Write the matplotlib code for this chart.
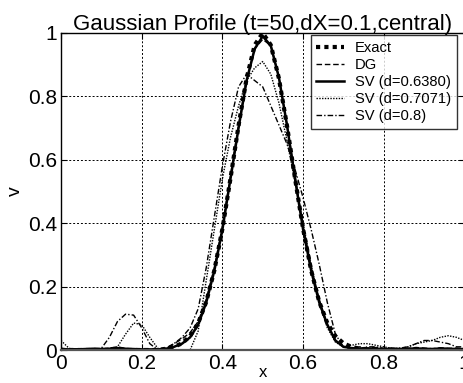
import matplotlib
matplotlib.use("Agg")
import matplotlib.pyplot as plt

x = [0.00, 0.02, 0.04, 0.06, 0.08, 0.10, 0.12, 0.14, 0.16, 0.18,
     0.20, 0.22, 0.24, 0.26, 0.28, 0.30, 0.32, 0.34, 0.36, 0.38,
     0.40, 0.42, 0.44, 0.46, 0.48, 0.50, 0.52, 0.54, 0.56, 0.58,
     0.60, 0.62, 0.64, 0.66, 0.68, 0.70, 0.72, 0.74, 0.76, 0.78,
     0.80, 0.82, 0.84, 0.86, 0.88, 0.90, 0.92, 0.94, 0.96, 0.98, 1.00]

exact = [0, 0, 0, 0, 0, 0, 0, 0, 0, 0,
         0, 0, 0, 0.004, 0.010, 0.021, 0.044, 0.085, 0.152, 0.251,
         0.382, 0.541, 0.708, 0.857, 0.962, 1.0, 0.962, 0.857, 0.708, 0.541,
         0.382, 0.251, 0.152, 0.085, 0.044, 0.021, 0.010, 0.004, 0, 0,
         0, 0, 0, 0, 0, 0, 0, 0, 0, 0, 0]

dg = [0.005, 0.002, 0.004, 0.002, 0.005, 0.003, 0.006, 0.010, 0.005, 0.003,
      0.004, 0.002, 0.003, 0.006, 0.020, 0.035, 0.055, 0.090, 0.160, 0.260,
      0.390, 0.550, 0.710, 0.850, 0.950, 0.980, 0.960, 0.860, 0.710, 0.550,
      0.390, 0.260, 0.160, 0.080, 0.030, 0.010, 0.005, 0.010, 0.006, 0.008,
      0.004, 0.006, 0.003, 0.005, 0.008, 0.006, 0.004, 0.007, 0.005, 0.006, 0.004]

sv_0638 = [0.003, 0.002, 0.002, 0.003, 0.004, 0.003, 0.004, 0.006, 0.004, 0.003,
           0.002, 0.002, 0.002, 0.004, 0.010, 0.020, 0.040, 0.080, 0.150, 0.250,
           0.380, 0.540, 0.700, 0.850, 0.950, 0.990, 0.960, 0.860, 0.710, 0.540,
           0.380, 0.250, 0.150, 0.080, 0.030, 0.010, 0.006, 0.004, 0.005, 0.004,
           0.003, 0.004, 0.003, 0.004, 0.005, 0.004, 0.003, 0.005, 0.004, 0.003, 0.003]

sv_0707 = [0.030, 0.005, 0.003, 0.004, 0.003, 0.004, 0.005, 0.010, 0.050, 0.085,
           0.080, 0.040, 0.005, 0.0, 0.0, 0.0, 0.0, 0.060, 0.220, 0.380,
           0.540, 0.670, 0.770, 0.850, 0.890, 0.910, 0.870, 0.780, 0.660, 0.530,
           0.400, 0.270, 0.150, 0.070, 0.025, 0.010, 0.015, 0.020, 0.020, 0.015,
           0.010, 0.005, 0.005, 0.010, 0.020, 0.025, 0.030, 0.040, 0.045, 0.040, 0.030]

sv_08 = [0.005, 0.003, 0.004, 0.003, 0.004, 0.005, 0.040, 0.090, 0.113, 0.110,
         0.070, 0.020, 0.0, 0.005, 0.020, 0.040, 0.070, 0.130, 0.260, 0.420,
         0.580, 0.720, 0.830, 0.870, 0.850, 0.830, 0.770, 0.710, 0.650, 0.570,
         0.480, 0.380, 0.270, 0.150, 0.050, 0.010, 0.005, 0.005, 0.010, 0.010,
         0.005, 0.004, 0.006, 0.010, 0.020, 0.030, 0.030, 0.025, 0.020, 0.010, 0.010]

labels = ["Exact", "DG", "SV (d=0.6380)", "SV (d=0.7071)", "SV (d=0.8)"]
xticks = [0, 0.2, 0.4, 0.6, 0.8, 1]
xticklabels = ["0", "0.2", "0.4", "0.6", "0.8", "1"]
yticks = [0, 0.2, 0.4, 0.6, 0.8, 1]
yticklabels = ["0", "0.2", "0.4", "0.6", "0.8", "1"]

plt.rcParams['font.family'] = ['Liberation Sans', 'DejaVu Sans']

fig = plt.figure(figsize=(4.63, 3.83), dpi=100)
ax = fig.add_axes([61/463, 1 - 350/383, 403.5/463, 317/383])

ax.plot(x, exact, color='black', linestyle=(0, (1, 1)), linewidth=3.0, label=labels[0])
ax.plot(x, dg, color='black', linestyle=(0, (4, 2)), linewidth=1.0, label=labels[1])
ax.plot(x, sv_0638, color='black', linestyle='-', linewidth=1.8, label=labels[2])
ax.plot(x, sv_0707, color='black', linestyle=(0, (1, 1)), linewidth=1.0, label=labels[3])
ax.plot(x, sv_08, color='black', linestyle=(0, (4, 1.5, 1, 1.5)), linewidth=1.0, label=labels[4])

ax.set_xlim(0, 1)
ax.set_ylim(0, 1)
ax.set_xticks(xticks)
ax.set_xticklabels(xticklabels)
ax.set_yticks(yticks)
ax.set_yticklabels(yticklabels)
ax.tick_params(direction='in', length=4, width=0.8, labelsize=15, pad=3,
               top=True, right=True)
ax.grid(True, color='black', linestyle=(0, (2, 2)), linewidth=0.7)
for s in ax.spines.values():
    s.set_color('black')
    s.set_linewidth(1.0)
ax.spines['bottom'].set_color('#555555')
ax.spines['bottom'].set_linewidth(1.6)

ax.set_title("Gaussian Profile (t=50,dX=0.1,central)", fontsize=16, pad=2)
ax.set_xlabel("x", fontsize=12, labelpad=-6)
ax.set_ylabel("v", fontsize=14, labelpad=3)

leg = ax.legend(loc='upper right', bbox_to_anchor=(456.7/463, 1 - 35/383),
                bbox_transform=fig.transFigure, borderaxespad=0,
                fontsize=10.6, frameon=True, fancybox=False,
                handlelength=1.9, handletextpad=0.7, labelspacing=0.2,
                borderpad=0.4)
leg.get_frame().set_edgecolor('black')
leg.get_frame().set_linewidth(1.0)

fig.savefig("out.png", dpi=100)
